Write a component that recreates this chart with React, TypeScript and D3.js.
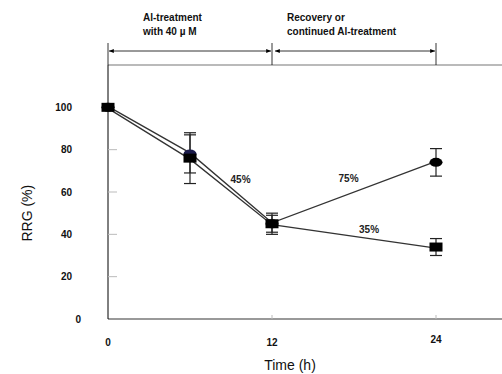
import React from "react";
import * as d3 from "d3";

// time points (h)
const hours = [0, 6, 12, 24];
// recovery series (circles)
const recovery = [100, 78, 45, 74];
const recoveryErr = [0, 9, 5, 6.5];
// continued Al-treatment series (squares)
const continued = [100, 76, 45, 34];
const continuedErr = [0, 12, 4, 4];

const yTicks = [0, 20, 40, 60, 80, 100];
const xTicks = [0, 12, 24];

const notes = [
  { t: 9.7, v: 66, text: "45%" },
  { t: 17.6, v: 66.5, text: "75%" },
  { t: 19.1, v: 42.5, text: "35%" },
];

const W = 502;
const H = 374;
const font = "'Liberation Sans', Arial, sans-serif";

export default function App() {
  const x = d3.scaleLinear().domain([0, 24]).range([108, 436]);
  const y = d3.scaleLinear().domain([0, 120]).range([319, 65]);
  const line = d3
    .line<number>()
    .x((_, i) => x(hours[i]))
    .y((d) => y(d));

  const errBars = (vals: number[], errs: number[], key: string) =>
    vals.map((v, i) =>
      errs[i] > 0 ? (
        <g key={key + i} stroke="#222" strokeWidth={1.2}>
          <line x1={x(hours[i])} x2={x(hours[i])} y1={y(v + errs[i])} y2={y(v - errs[i])} />
          <line x1={x(hours[i]) - 6} x2={x(hours[i]) + 6} y1={y(v + errs[i])} y2={y(v + errs[i])} />
          <line x1={x(hours[i]) - 6} x2={x(hours[i]) + 6} y1={y(v - errs[i])} y2={y(v - errs[i])} />
        </g>
      ) : null
    );

  const x0 = x(0);
  const x12 = x(12);
  const x24 = x(24);
  const arrowY = 51;

  return (
    <svg
      width={W}
      height={H}
      style={{ position: "fixed", left: 0, top: 0, background: "#fff" }}
      fontFamily={font}
    >
      <defs>
        <marker id="ah" viewBox="0 0 10 10" refX="10" refY="5" markerWidth="6" markerHeight="6" orient="auto-start-reverse">
          <path d="M0,1 L10,5 L0,9 z" fill="#000" />
        </marker>
      </defs>

      {/* top brackets */}
      <line x1={x0} x2={W} y1={y(120)} y2={y(120)} stroke="#777" strokeWidth={1.2} />
      {[x0, x12, x24].map((px, i) => (
        <line key={i} x1={px} x2={px} y1={43} y2={y(120)} stroke="#000" strokeWidth={0.8} />
      ))}
      <line x1={x0 + 1} x2={x12 - 1} y1={arrowY} y2={arrowY} stroke="#000" strokeWidth={0.8}
        markerStart="url(#ah)" markerEnd="url(#ah)" />
      <line x1={x12 + 3} x2={x24 - 1} y1={arrowY} y2={arrowY} stroke="#000" strokeWidth={0.8}
        markerStart="url(#ah)" markerEnd="url(#ah)" />
      <g fontSize={10} fontWeight="bold" fill="#111">
        <text x={143} y={21}>Al-treatment</text>
        <text x={143} y={35}>with 40 µ M</text>
        <text x={287} y={21}>Recovery or</text>
        <text x={287} y={35}>continued Al-treatment</text>
      </g>

      {/* axes */}
      <line x1={x0} x2={W} y1={y(0)} y2={y(0)} stroke="#777" strokeWidth={1.5} />
      <line x1={x0} x2={x0} y1={y(120)} y2={y(0)} stroke="#000" strokeWidth={1} />
      {yTicks.filter((t) => t > 0 && t < 100).map((t) => (
        <line key={t} x1={x0} x2={x0 + 9} y1={y(t)} y2={y(t)} stroke="#bbb" strokeWidth={1} />
      ))}
      {xTicks.filter((t) => t > 0).map((t) => (
        <line key={t} x1={x(t)} x2={x(t)} y1={y(0) - 4} y2={y(0)} stroke="#bbb" strokeWidth={1} />
      ))}
      <g fontSize={10} fontWeight="bold" fill="#111">
        {yTicks.map((t) => (
          <text key={t} x={t === 0 ? 81 : 72} y={y(t)} dy="0.35em" textAnchor="end">
            {t}
          </text>
        ))}
        {xTicks.map((t) => (
          <text key={t} x={x(t)} y={t === 24 ? 339 : 342} dy="0.35em" textAnchor="middle">
            {t}
          </text>
        ))}
      </g>
      <text x={290} y={370} fontSize={14} textAnchor="middle" fill="#111">Time (h)</text>
      <text transform={`translate(32,${y(50)}) rotate(-90)`} fontSize={14} textAnchor="middle" fill="#111">
        RRG (%)
      </text>

      {/* series */}
      <path d={line(recovery) ?? ""} fill="none" stroke="#333" strokeWidth={1.3} transform="translate(0,-1)" />
      <path d={line(continued) ?? ""} fill="none" stroke="#333" strokeWidth={1.3} transform="translate(0,1)" />
      {errBars(recovery, recoveryErr, "r")}
      {errBars(continued, continuedErr, "c")}
      {recovery.map((v, i) => (
        <ellipse key={"rc" + i} cx={x(hours[i])} cy={y(v)} rx={6.5} ry={4.5}
          fill={i === 1 ? "#1a1a4a" : "#000"} />
      ))}
      {continued.map((v, i) => (
        <rect key={"cs" + i} x={x(hours[i]) - 6.5} y={y(v) - 4.5} width={13} height={9} fill="#000" />
      ))}

      <g fontSize={10} fontWeight="bold" fill="#222">
        {notes.map((n) => (
          <text key={n.text} x={x(n.t)} y={y(n.v)} dy="0.35em" textAnchor="middle">{n.text}</text>
        ))}
      </g>
    </svg>
  );
}
